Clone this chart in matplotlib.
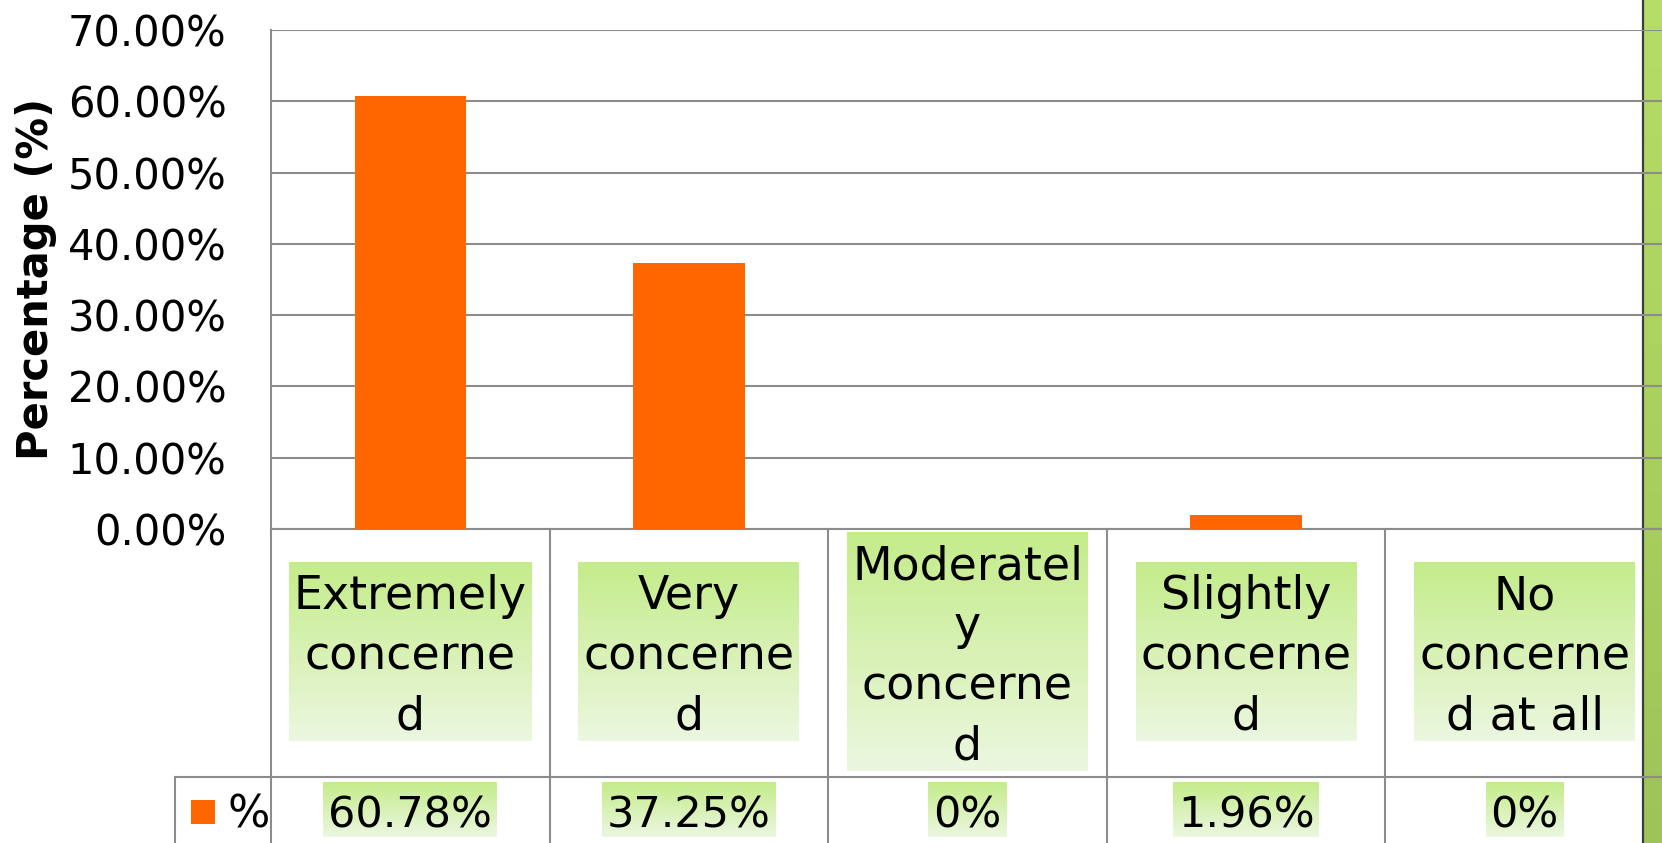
import matplotlib
matplotlib.use("Agg")
import matplotlib.pyplot as plt
import numpy as np
from matplotlib.transforms import blended_transform_factory
from matplotlib.patches import Rectangle
from matplotlib.lines import Line2D

# ---------------- data ----------------
categories = ["Extremely\nconcerne\nd", "Very\nconcerne\nd", "Moderatel\ny\nconcerne\nd",
              "Slightly\nconcerne\nd", "No\nconcerne\nd at all"]
values = [60.78, 37.25, 0, 1.96, 0]
value_labels = ["60.78%", "37.25%", "0%", "1.96%", "0%"]
series_name = "%"
y_ticks = [0, 10, 20, 30, 40, 50, 60, 70]
y_tick_labels = ["0.00%", "10.00%", "20.00%", "30.00%", "40.00%", "50.00%", "60.00%", "70.00%"]
y_label = "Percentage (%)"

# ---------------- style ----------------
W, H = 1662, 843
ORANGE = "#FF6600"
GRID = "#8c8c8c"
FONT = "DejaVu Sans"
plt.rcParams["font.family"] = [FONT]


def fx(px):
    return px / W


def fy(py):
    return 1 - py / H


fig = plt.figure(figsize=(W / 100, H / 100), dpi=100, facecolor="white")

# slide decoration on the right edge (green strip)
strip = np.zeros((H, 19, 3))
top_c = np.array([0xb6, 0xdd, 0x66]) / 255
bot_c = np.array([0x9e, 0xc4, 0x58]) / 255
tt = np.linspace(0, 1, H)[:, None, None]
strip[:] = top_c * (1 - tt) + bot_c * tt
fig.figimage(strip, xo=1643, yo=0, zorder=-6, origin="upper")
fig.add_artist(Line2D([fx(1643), fx(1643)], [0, 1], transform=fig.transFigure,
                      color="#3c3c3c", lw=1.6, zorder=-5))

ax = fig.add_axes([fx(271), fy(529), (1664 - 271) / W, (529 - 30) / H])
ax.set_facecolor("none")
n = len(categories)
x = np.arange(n)
ax.bar(x, values, width=0.4, color=ORANGE, zorder=3)
ax.set_xlim(-0.5, n - 0.5)
ax.set_ylim(y_ticks[0], y_ticks[-1])
ax.set_yticks(y_ticks)
ax.set_yticklabels(y_tick_labels, fontsize=30, color="black")
ax.tick_params(axis="y", length=0, pad=32)
ax.set_xticks([])
ax.grid(axis="y", color=GRID, lw=1.5, zorder=0)
ax.set_axisbelow(True)
for s in ["top", "right"]:
    ax.spines[s].set_visible(False)
for s in ["left", "bottom"]:
    ax.spines[s].set_color(GRID)
    ax.spines[s].set_linewidth(1.5)

fig.text(fx(36), fy(279), y_label, rotation=90, fontsize=30, fontweight="bold",
         ha="center", va="center")

# ---------------- data table ----------------
trans = blended_transform_factory(ax.transData, fig.transFigure)
for b in np.arange(n + 1) - 0.5:
    ax.add_line(Line2D([b, b], [fy(529), 0], transform=trans, color=GRID, lw=1.5,
                       clip_on=False))
fig.add_artist(Line2D([fx(175), 1], [fy(777), fy(777)], transform=fig.transFigure,
                      color=GRID, lw=1.5))
fig.add_artist(Line2D([fx(175), fx(175)], [fy(777), 0], transform=fig.transFigure,
                      color=GRID, lw=1.5))

texts = []
for i, lab in enumerate(categories):
    t = ax.text(i, fy(657), lab, transform=trans, ha="center", va="center",
                multialignment="center", fontsize=33, linespacing=1.43, zorder=5,
                clip_on=False)
    texts.append(t)
for i, lab in enumerate(value_labels):
    t = ax.text(i, fy(815), lab, transform=trans, ha="center", va="center",
                fontsize=31, zorder=5, clip_on=False)
    texts.append(t)

fig.add_artist(Rectangle((fx(191), fy(824)), 24 / W, 24 / H, transform=fig.transFigure,
                         facecolor=ORANGE, edgecolor="none"))
fig.text(fx(228), fy(815), series_name, fontsize=32, ha="left", va="center")

# green gradient highlight behind table texts
fig.canvas.draw()
renderer = fig.canvas.get_renderer()
g_top = np.array([0xc4, 0xec, 0x8a]) / 255
g_bot = np.array([0xec, 0xf7, 0xe0]) / 255
for t in texts:
    bb = t.get_window_extent(renderer)
    x0 = int(round(bb.x0 - 5))
    x1 = int(round(bb.x1 + 5))
    y0 = int(round(bb.y0 - 1))
    y1 = int(round(bb.y1 + 12))
    h, w = y1 - y0, x1 - x0
    g = np.linspace(0, 1, h)[:, None, None]
    arr = np.ones((h, w, 3)) * (g_top * (1 - g) + g_bot * g)
    fig.figimage(arr, xo=x0, yo=y0, zorder=-1, origin="upper")

fig.savefig("out.png", dpi=100, facecolor="white")
